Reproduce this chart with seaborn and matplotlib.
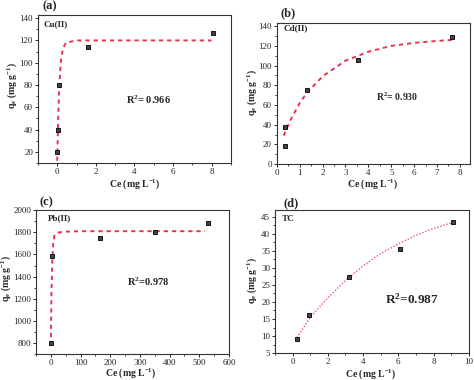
import numpy as np
import matplotlib.pyplot as plt
import seaborn as sns
from matplotlib.ticker import AutoMinorLocator

# Measured adsorption points
cu_ce = [0.0, 0.02, 0.1, 1.6, 8.1]
cu_qe = [20, 40, 80, 114, 127]
cd_ce = [0.35, 0.37, 1.3, 3.55, 7.65]
cd_qe = [38, 18, 75, 106, 129]
pb_ce = [0, 5, 165, 350, 530]
pb_qe = [800, 1590, 1750, 1805, 1880]
tc_ce = [0.25, 0.95, 3.2, 6.1, 9.1]
tc_qe = [9, 16.2, 27.2, 35.6, 43.6]

# Fitted curves
cu_fit_x = [0.0, 0.03, 0.06, 0.1, 0.15, 0.2, 0.3, 0.45, 1, 2, 4, 8]
cu_fit_y = [12, 35, 55, 75, 92, 103, 113, 118, 120, 120, 120, 120]
cd_fit_x = [0.3, 0.6, 1.0, 1.3, 2.0, 3.0, 4.0, 5.0, 6.0, 7.0, 7.65]
cd_fit_y = [29, 45, 62, 72, 89, 105, 114, 120, 123, 125, 126]
pb_fit_x = [0, 2, 5, 8, 12, 20, 40, 100, 300, 520]
pb_fit_y = [780, 1250, 1560, 1700, 1770, 1795, 1805, 1810, 1810, 1810]
tc_fit_x = [0.25, 1, 2, 3, 4, 5, 6, 7, 8, 9.1]
tc_fit_y = [9.5, 15.5, 21.2, 26.3, 30.6, 34.2, 37.1, 39.6, 41.6, 43.4]

sns.set_style("ticks")
plt.rcParams['font.family'] = ['Liberation Serif', 'DejaVu Serif']
plt.rcParams['mathtext.fontset'] = 'custom'
plt.rcParams['mathtext.rm'] = 'Liberation Serif:bold'
plt.rcParams['mathtext.it'] = 'Liberation Serif:italic:bold'
plt.rcParams['mathtext.bf'] = 'Liberation Serif:bold'

red = '#e8344e'
W, H = 474, 380
fig = plt.figure(figsize=(4.74, 3.80), dpi=100)

panels = [
    dict(pos=[0.080, 0.571, 0.407, 0.390], x=cu_ce, y=cu_qe, fx=cu_fit_x, fy=cu_fit_y,
         xlim=(-1, 9), ylim=(10, 143), xt=[0, 2, 4, 6, 8], yt=[20, 40, 60, 80, 100, 120, 140],
         lab='(a)', lab_xy=(50, 6), name='Cu(II)', name_xy=(43, 24),
         r2='R$^2$= 0.966', r2_xy=(126, 100), r2size=7.5, ls=(0, (2.2, 2)), lc=red, lw=1.4,
         xl_xy=(135, 184), yl_xy=(12, 85)),
    dict(pos=[0.584, 0.568, 0.408, 0.371], x=cd_ce, y=cd_qe, fx=cd_fit_x, fy=cd_fit_y,
         xlim=(0, 8.45), ylim=(0, 143), xt=range(0, 9), yt=range(0, 141, 20),
         lab='(b)', lab_xy=(288, 13), name='Cd(II)', name_xy=(284, 28),
         r2='R$^2$= 0.930', r2_xy=(376, 97), r2size=7, ls=(0, (2.2, 2)), lc=red, lw=1.4,
         xl_xy=(373, 184), yl_xy=(252, 92)),
    dict(pos=[0.076, 0.068, 0.407, 0.379], x=pb_ce, y=pb_qe, fx=pb_fit_x, fy=pb_fit_y,
         xlim=(-50, 600), ylim=(700, 2000), xt=range(0, 601, 100), yt=range(800, 2001, 200),
         lab='(c)', lab_xy=(46, 202), name='Pb(II)', name_xy=(48, 218),
         r2='R$^2$=0.978', r2_xy=(127, 282), r2size=7.5, ls=(0, (2.2, 2)), lc=red, lw=1.4,
         xl_xy=(131, 373), yl_xy=(6, 278)),
    dict(pos=[0.580, 0.071, 0.409, 0.376], x=tc_ce, y=tc_qe, fx=tc_fit_x, fy=tc_fit_y,
         xlim=(-1, 10), ylim=(5, 47), xt=range(0, 11, 2), yt=range(5, 46, 5),
         lab='(d)', lab_xy=(291, 203), name='TC', name_xy=(282, 219),
         r2='R$^2$=0.987', r2_xy=(385, 299), r2size=9.5, ls=(0, (1, 1.3)), lc='#ea5a6e', lw=1.0,
         xl_xy=(371, 374), yl_xy=(252, 280)),
]

for p in panels:
    ax = fig.add_axes(p['pos'])
    sns.lineplot(x=p['fx'], y=p['fy'], ax=ax, color=p['lc'], lw=p['lw'], linestyle=p['ls'],
                 sort=False, estimator=None)
    sns.scatterplot(x=p['x'], y=p['y'], ax=ax, marker='s', s=5, color='#444444',
                    edgecolor='black', linewidth=0.6, zorder=3)
    ax.set_xlim(p['xlim'])
    ax.set_ylim(p['ylim'])
    ax.set_xticks(list(p['xt']))
    ax.set_yticks(list(p['yt']))
    ax.xaxis.set_minor_locator(AutoMinorLocator(2))
    ax.yaxis.set_minor_locator(AutoMinorLocator(2))
    ax.tick_params(which='major', direction='out', length=2.5, width=0.7, labelsize=6.5, pad=1)
    ax.tick_params(which='minor', direction='out', length=1.5, width=0.6)
    for s in ax.spines.values():
        s.set_visible(True)
        s.set_linewidth(0.8)
        s.set_color('#333333')
    ax.set_xlabel('Ce (mg L$^{-1}$)', fontsize=7, fontweight='bold')
    ax.set_ylabel('q$_\\mathrm{e}$ (mg g$^{-1}$)', fontsize=7, fontweight='bold')
    ax.xaxis.set_label_coords(p['xl_xy'][0] / W, 1 - p['xl_xy'][1] / H, transform=fig.transFigure)
    ax.yaxis.set_label_coords(p['yl_xy'][0] / W, 1 - p['yl_xy'][1] / H, transform=fig.transFigure)
    ax.xaxis.label.set_va('center')
    ax.yaxis.label.set_va('center')
    fig.text(p['lab_xy'][0] / W, 1 - p['lab_xy'][1] / H, p['lab'], fontsize=9,
             fontweight='bold', ha='center', va='center')
    fig.text(p['name_xy'][0] / W, 1 - p['name_xy'][1] / H, p['name'], fontsize=6.5,
             fontweight='bold', ha='left', va='center')
    fig.text(p['r2_xy'][0] / W, 1 - p['r2_xy'][1] / H, p['r2'], fontsize=p['r2size'],
             fontweight='bold', ha='left', va='center')

fig.savefig('out.png', dpi=100)
